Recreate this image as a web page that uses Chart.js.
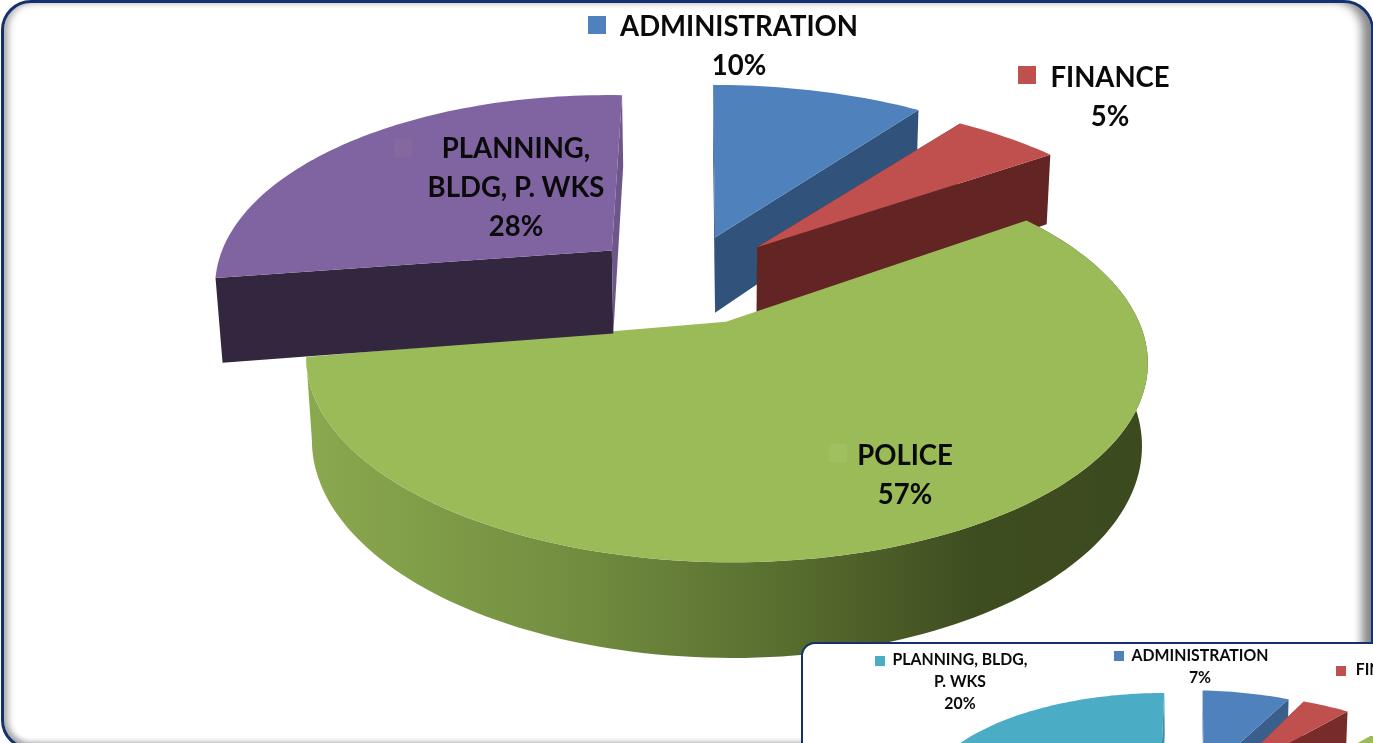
<!DOCTYPE html>
<html>
<head>
<meta charset="utf-8">
<script src="https://cdn.jsdelivr.net/npm/chart.js@4"></script>
<style>
  html, body { margin: 0; width: 1373px; height: 743px; overflow: hidden; background: #fff; }
  #frame {
    position: absolute; left: 1px; top: 0; width: 1367px; height: 744px;
    border: 3px solid #14306f; border-radius: 30px; background: #fff; overflow: hidden;
    box-shadow: inset 7px 0 7px -3px #aaa, inset -12px 0 10px -3px #888, inset 0 -7px 6px -3px #999;
  }
  #main { position: absolute; left: 0; top: 0; }
  #insetBox {
    position: absolute; left: 801px; top: 642px; width: 800px; height: 300px;
    border: 2px solid #14306f; border-radius: 14px; background: #fff; overflow: hidden;
  }
  #inset { position: absolute; left: 0; top: 0; }
</style>
</head>
<body>
<div id="frame"></div>
<canvas id="main" width="1373" height="743"></canvas>
<div id="insetBox"><canvas id="inset" width="800" height="300"></canvas></div>
<script>
// budget shares, big pie
const categories = ["ADMINISTRATION", "FINANCE", "POLICE", "PLANNING, BLDG, P. WKS"];
const shares = [10, 5, 57, 28];
// small pie in the corner
const insetShares = [7, 4, 69, 20];

// police lid trims finance, the planning cut face then sits over police
const drawOrder = [0, 1, 2, 3];
const rimSlice = 2;

const mainStyle = {
  camera: { cx: 723, cy: 324, a: 419, b: 193, c: 82, k: 0.19, m: 0.0135 },
  // slice placement on the ground plane, su/sv lean the disc, h is the slab thickness
  spots: [
    { du: -0.021, dv: -0.49, ru: 1.055, rv: 1.13, su: 0.01, sv: 0, h: 1 },
    { du: 0.088, dv: -0.43, ru: 1.05, rv: 1.08, su: 0, sv: 0.015, h: 1 },
    { du: 0.007, dv: -0.012, ru: 0.988, rv: 1.012, su: 0, sv: 0.012, h: 1 },
    { du: -0.286, dv: -0.41, ru: 1.005, rv: 1.12, su: 0.025, sv: 0.05, h: 1.09 }
  ],
  tops: ["#4f81bd", "#c0504d", "#9bbb59", "#8064a2"],
  startWalls: ["#1f3a5a", "#632523", "#3f4f1f", "#33263f"],
  endWalls: ["#31527a", "#632523", "#3f4f1f", "#6c568a"],
  rim: [[0, "#8aa84e"], [0.3, "#748f41"], [0.55, "#5a7030"], [0.8, "#3e4d20"], [1, "#3c4a1f"]],
  rimX: [313, 1141],
  font: "bold 29px Lato",
  squash: 0.948,
  lineHeight: 39,
  keySize: 18,
  keys: ["#4f81bd", "#c0504d", "#a0bf60", "#84689f"],
  labels: [
    { lines: ["ADMINISTRATION"], x: 739, y: 27, keyX: 597, keyY: 25 },
    { lines: ["FINANCE"], x: 1110, y: 78, keyX: 1027, keyY: 75 },
    { lines: ["POLICE"], x: 905, y: 456, keyX: 838, keyY: 453 },
    { lines: ["PLANNING,", "BLDG, P. WKS"], x: 516, y: 149, keyX: 403, keyY: 148 }
  ]
};

const insetStyle = {
  camera: { cx: 403, cy: 179, a: 235, b: 107, c: 48, k: 0.19, m: 0.0135 },
  spots: [
    { du: -0.009, dv: -0.49, ru: 1.1, rv: 1.13, su: 0.01, sv: 0.07, h: 1 },
    { du: 0.088, dv: -0.46, ru: 1.04, rv: 1.09, su: 0, sv: 0, h: 1 },
    { du: 0.03, dv: 0, ru: 1.25, rv: 1.25, su: 0, sv: 0, h: 1 },
    { du: -0.211, dv: -0.44, ru: 1.08, rv: 1.14, su: 0.02, sv: 0, h: 1.08 }
  ],
  tops: ["#4f81bd", "#c0504d", "#9bbb59", "#4bacc6"],
  startWalls: ["#2f5480", "#772c2a", "#4f6327", "#2c6c7e"],
  endWalls: ["#3a5f8c", "#772c2a", "#4f6327", "#3d8ea4"],
  rim: [[0, "#8aa84e"], [1, "#3c4a1f"]],
  rimX: [0, 640],
  font: "bold 17px Lato",
  squash: 0.93,
  lineHeight: 22,
  keySize: 10,
  keys: ["#4f81bd", "#c0504d", "#9bbb59", "#4bacc6"],
  labels: [
    { lines: ["ADMINISTRATION"], x: 397, y: 12, keyX: 316, keyY: 12 },
    { lines: ["FINANCE"], x: 587, y: 26, keyX: 538, keyY: 27 },
    { lines: ["POLICE"], x: 450, y: 270, keyX: 410, keyY: 270 },
    { lines: ["PLANNING, BLDG,", "P. WKS"], x: 157, y: 16, keyX: 77, keyY: 17 }
  ]
};

function project(cam, u, v, z) {
  const w = 1 - cam.k * v + cam.m * z;
  return [cam.cx + cam.a * u / w, cam.cy + (cam.b * v + cam.c * z) / w];
}

function fillPoly(ctx, pts, fill) {
  ctx.beginPath();
  pts.forEach((p, i) => (i ? ctx.lineTo(p[0], p[1]) : ctx.moveTo(p[0], p[1])));
  ctx.closePath();
  ctx.fillStyle = fill;
  ctx.fill();
}

// pie controller that keeps the library's angles but paints each arc as a solid wedge
class Pie3DController extends Chart.PieController {
  draw() {
    const ctx = this.chart.ctx;
    const look = this.chart.options.look;
    const cam = look.camera;
    const arcs = this._cachedMeta.data;

    drawOrder.forEach((i) => {
      const { startAngle, endAngle } = arcs[i];
      const spot = look.spots[i];
      const ring = (z) => {
        const pts = [];
        const steps = Math.ceil((endAngle - startAngle) * 40);
        for (let s = 0; s <= steps; s++) {
          const t = startAngle + (endAngle - startAngle) * s / steps;
          const c = Math.cos(t);
          const d = Math.sin(t);
          pts.push(project(cam, spot.du + spot.ru * c + spot.su * d, spot.dv + spot.rv * d + spot.sv * c, z));
        }
        return pts;
      };
      const top = ring(0);
      const bottom = ring(spot.h);
      const apex0 = project(cam, spot.du, spot.dv, 0);
      const apex1 = project(cam, spot.du, spot.dv, spot.h);

      // the police slab only shows its rim and lid, the back slices their cut faces
      if (i !== rimSlice) {
        fillPoly(ctx, [apex0, top[0], bottom[0], apex1], look.startWalls[i]);
        fillPoly(ctx, [apex0, top[top.length - 1], bottom[bottom.length - 1], apex1], look.endWalls[i]);
      } else {
        const rimFill = ctx.createLinearGradient(look.rimX[0], 0, look.rimX[1], 0);
        look.rim.forEach((stop) => rimFill.addColorStop(stop[0], stop[1]));
        fillPoly(ctx, top.concat(bottom.slice().reverse()), rimFill);
      }
      fillPoly(ctx, [apex0].concat(top), look.tops[i]);
    });
  }
}
Pie3DController.id = "pie3d";
Pie3DController.defaults = Chart.PieController.defaults;
Chart.register(Pie3DController);

const sliceLabels = {
  id: "sliceLabels",
  afterDraw(chart) {
    const ctx = chart.ctx;
    const look = chart.options.look;
    const values = chart.data.datasets[0].data;
    ctx.save();
    ctx.font = look.font;
    ctx.textAlign = "center";
    ctx.textBaseline = "middle";
    look.labels.forEach((lab, i) => {
      ctx.fillStyle = look.keys[i];
      ctx.fillRect(lab.keyX - look.keySize / 2, lab.keyY - look.keySize / 2, look.keySize, look.keySize);
      ctx.fillStyle = "#0a0a0a";
      lab.lines.concat(values[i] + "%").forEach((line, n) => {
        ctx.save();
        ctx.translate(lab.x, lab.y + n * look.lineHeight);
        ctx.scale(look.squash, 1);
        ctx.fillText(line, 0, 0);
        ctx.restore();
      });
    });
    ctx.restore();
  }
};

function makePie(id, values, look) {
  return new Chart(document.getElementById(id), {
    type: "pie3d",
    data: { labels: categories, datasets: [{ data: values }] },
    options: {
      look: look,
      responsive: false,
      animation: false,
      devicePixelRatio: 1,
      plugins: { legend: { display: false }, tooltip: { enabled: false } }
    },
    plugins: [sliceLabels]
  });
}

makePie("main", shares, mainStyle);
makePie("inset", insetShares, insetStyle);
</script>
</body>
</html>
